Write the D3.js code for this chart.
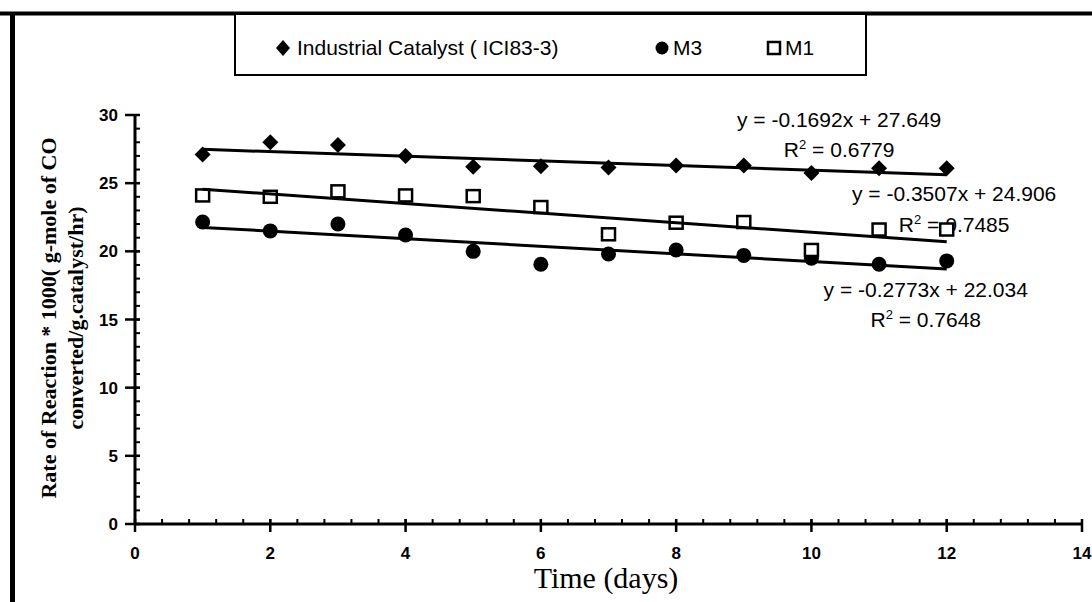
<!DOCTYPE html>
<html>
<head>
<meta charset="utf-8">
<script src="https://cdn.jsdelivr.net/npm/d3@7"></script>
<style>
  body { margin: 0; background: #fff; }
  text { fill: #000; }
  .tick-label { font-family: "Liberation Sans", Arial, sans-serif; font-size: 17px; font-weight: bold; }
  .eq { font-family: "Liberation Sans", Arial, sans-serif; font-size: 21px; }
</style>
</head>
<body>
<div id="chartArea"></div>
<script>
// data
var days = [1, 2, 3, 4, 5, 6, 7, 8, 9, 10, 11, 12];
var ici = [27.1, 28.0, 27.8, 27.0, 26.2, 26.25, 26.15, 26.3, 26.3, 25.75, 26.1, 26.1];
var m3 = [22.15, 21.5, 22.0, 21.2, 20.0, 19.05, 19.8, 20.1, 19.7, 19.5, 19.05, 19.3];
var m1 = [24.1, 24.0, 24.4, 24.1, 24.05, 23.25, 21.25, 22.1, 22.15, 20.1, 21.6, 21.6];

var seriesNames = ["Industrial Catalyst ( ICI83-3)", "M3", "M1"];
var slopes = [-0.1692, -0.2773, -0.3507];
var intercepts = [27.649, 22.034, 24.906];
var eqLabels = ["y = -0.1692x + 27.649", "y = -0.2773x + 22.034", "y = -0.3507x + 24.906"];
var r2Labels = ["0.6779", "0.7648", "0.7485"];

var xTicks = [0, 2, 4, 6, 8, 10, 12, 14];
var yTicks = [0, 5, 10, 15, 20, 25, 30];

var W = 1092, H = 602;
var svg = d3.select("#chartArea").append("svg")
  .attr("width", W)
  .attr("height", H);

// scales
var x = d3.scaleLinear().domain([0, 14]).range([135, 1082]);
var y = d3.scaleLinear().domain([0, 30]).range([524, 115]);

// page frame (top and left border of the scanned figure)
svg.append("line").attr("x1", 0).attr("x2", W).attr("y1", 13.5).attr("y2", 13.5)
  .attr("stroke", "#000").attr("stroke-width", 4);
svg.append("line").attr("x1", 12.5).attr("x2", 12.5).attr("y1", 12).attr("y2", H)
  .attr("stroke", "#000").attr("stroke-width", 5);

// legend box
var lg = svg.append("g");
lg.append("rect").attr("x", 235).attr("y", 14).attr("width", 631).attr("height", 61)
  .attr("fill", "#fff").attr("stroke", "#000").attr("stroke-width", 2);

var legendPos = [{mx: 283, tx: 297}, {mx: 662, tx: 673}, {mx: 774, tx: 785}];

seriesNames.forEach(function(name, i) {
  var p = legendPos[i];
  if (i == 2) {
    lg.append("rect").attr("x", p.mx - 6).attr("y", 42).attr("width", 12).attr("height", 12)
      .attr("fill", "#fff").attr("stroke", "#000").attr("stroke-width", 2.5);
  } else if (i == 1) {
    lg.append("circle").attr("cx", p.mx).attr("cy", 48).attr("r", 6.5).attr("fill", "#000");
  } else {
    lg.append("path").attr("d", "M0,-8L7,0L0,8L-7,0Z")
      .attr("transform", "translate(" + p.mx + ",48)").attr("fill", "#000");
  }
  lg.append("text").attr("class", "eq").attr("x", p.tx).attr("y", 55).text(name);
});

// axes
var axes = svg.append("g");
axes.append("line").attr("x1", x(0)).attr("x2", x(14)).attr("y1", y(0)).attr("y2", y(0))
  .attr("stroke", "#000").attr("stroke-width", 3);
axes.append("line").attr("x1", x(0)).attr("x2", x(0)).attr("y1", y(0)).attr("y2", y(30))
  .attr("stroke", "#000").attr("stroke-width", 3);

// y minor ticks (every 1) and major ticks
axes.selectAll(".yminor").data(d3.range(0, 31)).enter().append("line")
  .attr("x1", x(0)).attr("x2", x(0) + 5)
  .attr("y1", function(d) { return y(d); }).attr("y2", function(d) { return y(d); })
  .attr("stroke", "#000").attr("stroke-width", 2);
axes.selectAll(".ymajor").data(yTicks).enter().append("line")
  .attr("x1", x(0) - 10).attr("x2", x(0) + 5)
  .attr("y1", function(d) { return y(d); }).attr("y2", function(d) { return y(d); })
  .attr("stroke", "#000").attr("stroke-width", 2.5);
axes.selectAll(".ylab").data(yTicks).enter().append("text")
  .attr("class", "tick-label")
  .attr("x", 118).attr("y", function(d) { return y(d) + 6; })
  .attr("text-anchor", "end").text(function(d) { return d; });

// x minor ticks (every 0.4) and major ticks
axes.selectAll(".xminor").data(d3.range(0, 35).map(function(i) { return i * 0.4; })).enter().append("line")
  .attr("x1", function(d) { return x(d); }).attr("x2", function(d) { return x(d); })
  .attr("y1", y(0) - 5).attr("y2", y(0))
  .attr("stroke", "#000").attr("stroke-width", 2);
axes.selectAll(".xmajor").data(xTicks).enter().append("line")
  .attr("x1", function(d) { return x(d); }).attr("x2", function(d) { return x(d); })
  .attr("y1", y(0) - 5).attr("y2", y(0) + 8)
  .attr("stroke", "#000").attr("stroke-width", 2.5);
axes.selectAll(".xlab").data(xTicks).enter().append("text")
  .attr("class", "tick-label")
  .attr("x", function(d) { return x(d); }).attr("y", 559)
  .attr("text-anchor", "middle").text(function(d) { return d; });

// axis titles
svg.append("text")
  .attr("x", 606).attr("y", 588)
  .attr("text-anchor", "middle")
  .style("font-family", "'Liberation Serif', 'Times New Roman', serif")
  .style("font-size", "30px")
  .text("Time (days)");

var yt = svg.append("text")
  .attr("transform", "translate(56,318) rotate(-90)")
  .attr("text-anchor", "middle")
  .style("font-family", "'Liberation Serif', 'Times New Roman', serif")
  .style("font-size", "22px")
  .style("font-weight", "bold");
yt.append("tspan").attr("x", 0).attr("dy", 0).text("Rate of Reaction * 1000( g-mole of CO");
yt.append("tspan").attr("x", 0).attr("dy", 27).text("converted/g.catalyst/hr)");

// equation labels (anchor points in data units)
var labelAt = [{x: 10.41, y: 29.13, ry: 26.95}, {x: 11.69, y: 16.68, ry: 14.45}, {x: 12.11, y: 23.7, ry: 21.45}];
eqLabels.forEach(function(t, i) {
  var a = labelAt[i];
  svg.append("text").attr("class", "eq").attr("text-anchor", "middle")
    .attr("x", x(a.x)).attr("y", y(a.y)).text(t);
  var r = svg.append("text").attr("class", "eq").attr("text-anchor", "middle")
    .attr("x", x(a.x)).attr("y", y(a.ry));
  r.append("tspan").text("R");
  r.append("tspan").attr("dy", -8).style("font-size", "13px").text("2");
  r.append("tspan").attr("dy", 8).text(" = " + r2Labels[i]);
});

// markers
var pts = svg.append("g");
pts.selectAll(".dia").data(days).enter().append("path")
  .attr("d", "M0,-8L8,0L0,8L-8,0Z")
  .attr("transform", function(d, i) { return "translate(" + x(d) + "," + y(ici[i]) + ")"; })
  .attr("fill", "#000");
pts.selectAll(".dot").data(days).enter().append("circle")
  .attr("cx", function(d) { return x(d); })
  .attr("cy", function(d, i) { return y(m3[i]); })
  .attr("r", 7.5).attr("fill", "#000");
pts.selectAll(".sq").data(days).enter().append("rect")
  .attr("x", function(d) { return x(d) - 6.5; })
  .attr("y", function(d, i) { return y(m1[i]) - 6; })
  .attr("width", 13).attr("height", 12)
  .attr("fill", "#fff").attr("stroke", "#000").attr("stroke-width", 2.5);

// linear trend lines from the fitted equations
var trend = d3.line()
  .x(function(d) { return x(d[0]); })
  .y(function(d) { return y(d[1]); });
slopes.forEach(function(m, i) {
  var ends = [1, 12].map(function(t) { return [t, m * t + intercepts[i]]; });
  svg.append("path").datum(ends)
    .attr("d", trend).attr("fill", "none")
    .attr("stroke", "#000").attr("stroke-width", 3);
});
</script>
</body>
</html>
